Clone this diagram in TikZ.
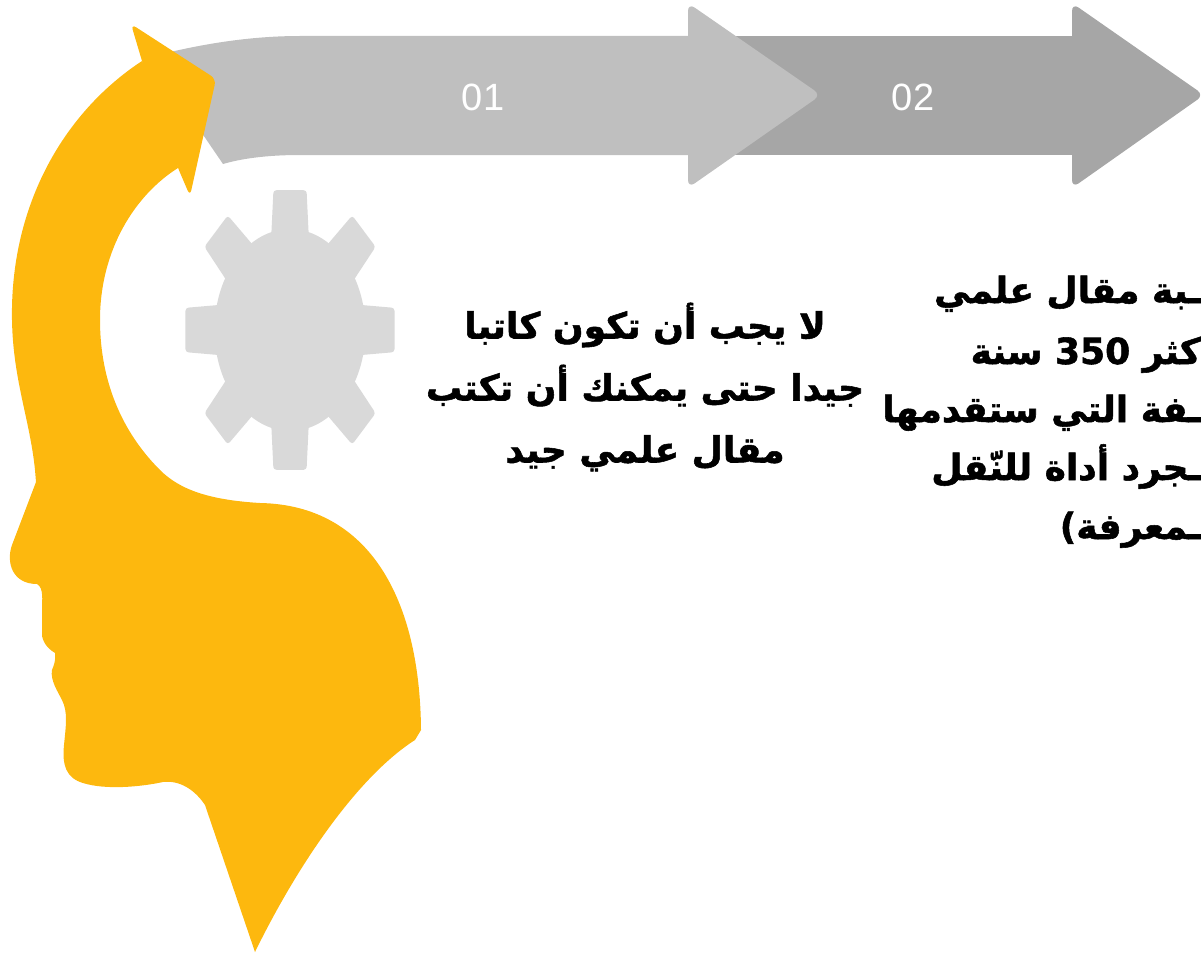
\documentclass[tikz,border=0pt]{standalone}
\usepackage{fontspec}
\newfontfamily\arabicfont[Script=Arabic, BoldFeatures={FakeBold=1.5}]{DejaVu Sans}
\newfontfamily\latinfont{Liberation Sans}
\TeXXeTstate=1
\definecolor{headyellow}{HTML}{FDB80E}
\definecolor{stepgrayA}{HTML}{BFBFBF}
\definecolor{stepgrayB}{HTML}{A6A6A6}
\definecolor{geargray}{HTML}{D9D9D9}

\begin{document}
\begin{tikzpicture}[
  x=1pt, y=-1pt, % pixel grid
  steplabel/.style={font=\latinfont\fontsize{38}{38}\selectfont, text=white},
  tiptext/.style={font=\arabicfont\bfseries\fontsize{36}{62}\selectfont, align=center},
  tipline/.style={tiptext, anchor=base east, inner sep=0pt},
  gearpart/.style={fill=geargray, rounded corners=3pt},
  ]
\useasboundingbox (0,0) rectangle (1201,955);

% step 02
\fill[stepgrayB] (700,36) rectangle (1080,155);
\fill[stepgrayB, rounded corners=8pt] (1072,3) -- (1204,95) -- (1072,188) -- cycle;
% step 01
\fill[stepgrayA] (150,57) .. controls (200,44) and (250,36) .. (300,36) -- (700,36)
  -- (700,155) -- (300,155) .. controls (265,155) and (240,159) .. (223,164) -- cycle;
\fill[stepgrayA, rounded corners=8pt] (688,3) -- (821,95) -- (688,188) -- cycle;
\node[steplabel] (n01) at (483,97) {01};
\node[steplabel] (n02) at (913,97) {02};

% head
\fill[headyellow] (142,61) .. controls (60,115) and (10,210) .. (12,320)
  .. controls (13,380) and (30,420) .. (35,470) -- (36,482) -- (12,545)
  .. controls (6,562) and (12,584) .. (37,584)
  .. controls (44,588) and (42,600) .. (42,610) -- (42,636)
  .. controls (44,645) and (50,650) .. (55,653)
  .. controls (56,660) and (54,665) .. (52,670)
  .. controls (50,680) and (58,692) .. (62,700)
  .. controls (68,712) and (66,725) .. (64,745)
  .. controls (62,765) and (66,778) .. (83,783)
  .. controls (105,790) and (140,787) .. (163,782)
  .. controls (180,780) and (195,790) .. (205,805)
  -- (255,952)
  .. controls (300,860) and (360,775) .. (415,740) -- (421,730)
  .. controls (420,600) and (370,505) .. (260,503)
  .. controls (210,500) and (180,490) .. (160,470)
  .. controls (115,425) and (100,370) .. (100,320)
  .. controls (100,250) and (135,195) .. (178,168)
  -- (170,110) -- cycle;
\fill[headyellow] (142,61) [rounded corners=6pt] -- (131,24) -- (216,79) -- (190,196)
  -- (178,168) [sharp corners] -- cycle;

% gear
\begin{scope}[shift={(290,330)}, xscale=74, yscale=99]
\fill[geargray] (0,0) circle (1.02);
\foreach \a in {0,45,...,315}
  \fill[gearpart] (\a-18:0.85) -- (\a-9:1.43) -- (\a+9:1.43) -- (\a+18:0.85) -- cycle;
\end{scope}

\node[tiptext] (tip1) at (645,387) {\beginR لا يجب أن تكون كاتبا\endR\\
  \beginR جيدا حتى يمكنك أن تكتب\endR\\
  \beginR مقال علمي جيد\endR};

\node[tipline] (tip2a) at (1201,303) {\beginR ـبة مقال علمي\endR};
\node[tipline] (tip2b) at (1201,364) {\beginR كثر \beginL350\endL{} سنة\endR};
\node[tipline] (tip2c) at (1201,422) {\beginR ـفة التي ستقدمها\endR};
\node[tipline] (tip2d) at (1201,480) {\beginR ـجرد أداة للنّقل\endR};
\node[tipline] (tip2e) at (1201,539) {\beginR ـمعرفة)\endR};
\end{tikzpicture}
\end{document}
